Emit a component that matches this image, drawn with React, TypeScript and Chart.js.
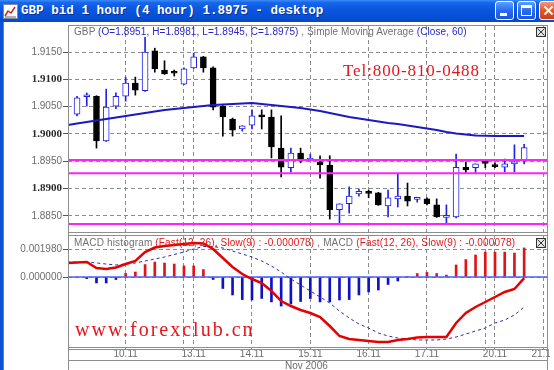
import React, { useEffect, useRef } from 'react';
import { Chart, registerables } from 'chart.js';

Chart.register(...registerables);

// ---------- data (4-hour candles, index 0 .. 46) ----------
const OPEN = [1.9036, 1.9068, 1.9069, 1.8987, 1.9051, 1.9069, 1.9093, 1.9079, 1.9152, 1.9117, 1.9112, 1.9091, 1.9121, 1.9141, 1.9121, 1.9051, 1.9027, 1.9009, 1.9016, 1.9035, 1.9031, 1.8974, 1.8938, 1.8965, 1.8952, 1.8949, 1.8943, 1.8861, 1.8872, 1.8890, 1.8892, 1.8892, 1.8868, 1.8881, 1.8886, 1.8880, 1.8881, 1.8870, 1.8847, 1.8848, 1.8939, 1.8938, 1.8947, 1.8942, 1.8939, 1.8945, 1.8951];
const HIGH = [1.9069, 1.9075, 1.9070, 1.9082, 1.9075, 1.9104, 1.9104, 1.9177, 1.9157, 1.9134, 1.9117, 1.9121, 1.9148, 1.9142, 1.9123, 1.9052, 1.9029, 1.9015, 1.9044, 1.9044, 1.9044, 1.9033, 1.8974, 1.8974, 1.8963, 1.8960, 1.8960, 1.8872, 1.8903, 1.8899, 1.8897, 1.8893, 1.8897, 1.8928, 1.8910, 1.8884, 1.8883, 1.8881, 1.8870, 1.8963, 1.8949, 1.8945, 1.8949, 1.8947, 1.8954, 1.8980, 1.8981];
const LOW = [1.9033, 1.9051, 1.8974, 1.8986, 1.9046, 1.9060, 1.9071, 1.9078, 1.9113, 1.9109, 1.9106, 1.9090, 1.9120, 1.9113, 1.9044, 1.8996, 1.8996, 1.9005, 1.9009, 1.9009, 1.8956, 1.8921, 1.8930, 1.8947, 1.8951, 1.8919, 1.8844, 1.8837, 1.8855, 1.8886, 1.8883, 1.8869, 1.8848, 1.8866, 1.8868, 1.8875, 1.8870, 1.8847, 1.8837, 1.8846, 1.8927, 1.8927, 1.8938, 1.8938, 1.8930, 1.8930, 1.8945];
const CLOSE = [1.9066, 1.9069, 1.8987, 1.9049, 1.9069, 1.9093, 1.9080, 1.9150, 1.9119, 1.9110, 1.9111, 1.9119, 1.9141, 1.9121, 1.9049, 1.9031, 1.9007, 1.9015, 1.9033, 1.9031, 1.8976, 1.8939, 1.8965, 1.8952, 1.8954, 1.8943, 1.8861, 1.8872, 1.8886, 1.8895, 1.8891, 1.8870, 1.8883, 1.8886, 1.8877, 1.8881, 1.8872, 1.8848, 1.8848, 1.8939, 1.8934, 1.8945, 1.8946, 1.8940, 1.8945, 1.8949, 1.8975];

// Simple moving average (Close, 60), MACD and signal start one bar before the first candle
const LINE_START = -1;
const SMA = [1.90163, 1.90190, 1.90218, 1.90245, 1.90273, 1.90300, 1.90328, 1.90355, 1.90383, 1.90410, 1.90438, 1.90456, 1.90474, 1.90493, 1.90511, 1.90529, 1.90538, 1.90548, 1.90557, 1.90566, 1.90548, 1.90529, 1.90511, 1.90493, 1.90474, 1.90447, 1.90419, 1.90383, 1.90346, 1.90310, 1.90282, 1.90255, 1.90227, 1.90200, 1.90181, 1.90154, 1.90126, 1.90099, 1.90071, 1.90035, 1.90007, 1.89989, 1.89971, 1.89965, 1.89962, 1.89960, 1.89960, 1.89962];
const MACD = [0.001012, 0.001048, 0.001084, 0.000650, 0.000578, 0.000686, 0.000939, 0.001156, 0.001807, 0.002132, 0.002240, 0.002312, 0.002385, 0.002457, 0.002421, 0.002023, 0.001373, 0.000723, 0.000217, -0.000145, -0.000434, -0.001012, -0.001734, -0.002096, -0.002385, -0.002601, -0.002890, -0.003541, -0.004263, -0.004480, -0.004552, -0.004625, -0.004697, -0.004697, -0.004552, -0.004480, -0.004372, -0.004336, -0.004336, -0.004336, -0.003324, -0.002601, -0.002168, -0.001807, -0.001445, -0.001084, -0.000867, -0.000078];
const SIGNAL = [0.001084, 0.001084, 0.001084, 0.001012, 0.000939, 0.000867, 0.000939, 0.001012, 0.001156, 0.001301, 0.001445, 0.001626, 0.001807, 0.002023, 0.002204, 0.002204, 0.002096, 0.001879, 0.001662, 0.001445, 0.001156, 0.000795, 0.000361, -0.000145, -0.000578, -0.001012, -0.001445, -0.001879, -0.002457, -0.002963, -0.003396, -0.003685, -0.004047, -0.004263, -0.004408, -0.004480, -0.004552, -0.004552, -0.004552, -0.004480, -0.004336, -0.004119, -0.003902, -0.003685, -0.003324, -0.003107, -0.002746, -0.002168];
const HIST = [0, -0.00012, -0.00043, -0.00043, -0.00018, 0.00025, 0.00036, 0.00090, 0.00108, 0.00101, 0.00094, 0.00080, 0.00080, 0.00054, -0.00018, -0.00083, -0.00130, -0.00163, -0.00166, -0.00155, -0.00180, -0.00210, -0.00195, -0.00177, -0.00155, -0.00180, -0.00180, -0.00166, -0.00163, -0.00130, -0.00108, -0.00094, -0.00054, -0.00029, 0.00001, 0.00025, 0.00033, 0.00025, 0.00014, 0.00087, 0.00126, 0.00159, 0.00180, 0.00180, 0.00180, 0.00173, 0.00210];

// horizontal support / resistance levels (magenta)
const LEVELS = [1.8952, 1.8928, 1.8835];

// axis ticks
const PRICE_TICKS = [1.8850, 1.8900, 1.8950, 1.9000, 1.9050, 1.9100, 1.9150];
const MACD_TICKS = [0, 0.00198];
const DAY_TICKS = [5, 12, 18, 24, 30, 36, 43, 48];
const DAY_LABELS = ['10.11', '13.11', '14.11', '15.11', '16.11', '17.11', '20.11', '21.11'];
const WEEKEND_TICKS = [11, 42];
const MONTH_LABEL = 'Nov 2006';

// ---------- layout constants ----------
const X_MIN = -0.93;
const X_MAX = 48.35;
const MAIN_Y_MIN = 1.882033;
const MAIN_Y_MAX = 1.919762;
const MACD_Y_MIN = -0.005058;
const MACD_Y_MAX = 0.003035;

const GRID = '#8c8c8c';
const FRAME = '#8e8e8e';
const BULL = '#2222e6';
const BEAR = '#000000';
const SANS = '"Liberation Sans", Arial, sans-serif';
const SERIF = '"Liberation Serif", "Times New Roman", serif';

const allGrid = [...DAY_TICKS, ...WEEKEND_TICKS].sort((a, b) => a - b);

function noPad(s: any) {
  s.paddingLeft = 0;
  s.paddingRight = 0;
  s.paddingTop = 0;
  s.paddingBottom = 0;
}

function mainConfig(): any {
  const isBull = (i: number) => CLOSE[i] >= OPEN[i];
  return {
    type: 'bar',
    data: {
      datasets: [
        ...LEVELS.map((lv) => ({
          type: 'line',
          data: [{ x: X_MIN, y: lv }, { x: X_MAX, y: lv }],
          borderColor: '#ff22ff',
          borderWidth: 2,
          pointRadius: 0,
          order: 0,
        })),
        {
          type: 'line',
          data: SMA.map((v, k) => ({ x: k + LINE_START, y: v })),
          borderColor: '#1a1ac4',
          borderWidth: 2,
          pointRadius: 0,
          tension: 0,
          order: 1,
        },
        {
          type: 'bar',
          data: OPEN.map((o, i) => ({ x: i, y: [o, CLOSE[i]] })),
          backgroundColor: OPEN.map((_, i) => (isBull(i) ? '#ffffff' : BEAR)),
          borderColor: OPEN.map((_, i) => (isBull(i) ? BULL : BEAR)),
          borderWidth: 1,
          borderSkipped: false,
          barThickness: 6,
          minBarLength: 2,
          grouped: false,
          order: 2,
        },
        {
          type: 'bar',
          data: OPEN.map((_, i) => ({ x: i, y: [LOW[i], HIGH[i]] })),
          backgroundColor: OPEN.map((_, i) => (isBull(i) ? BULL : BEAR)),
          borderWidth: 0,
          barThickness: 1,
          grouped: false,
          order: 3,
        },
      ],
    },
    options: {
      animation: false,
      responsive: false,
      maintainAspectRatio: false,
      events: [],
      layout: { padding: { top: 4, right: 3, bottom: 2, left: 0 } },
      plugins: { legend: { display: false }, tooltip: { enabled: false } },
      scales: {
        x: {
          type: 'linear',
          min: X_MIN,
          max: X_MAX,
          offset: false,
          afterBuildTicks: (s: any) => {
            s.ticks = allGrid.map((v) => ({ value: v }));
          },
          afterFit: (s: any) => {
            s.height = 0;
            noPad(s);
          },
          ticks: { display: false },
          grid: { color: GRID, drawTicks: false, lineWidth: 1, offset: false },
          border: { display: false, dash: [4, 3] },
        },
        y: {
          type: 'linear',
          min: MAIN_Y_MIN,
          max: MAIN_Y_MAX,
          afterBuildTicks: (s: any) => {
            s.ticks = PRICE_TICKS.map((v) => ({ value: v }));
          },
          afterFit: (s: any) => {
            s.width = 68;
            noPad(s);
          },
          ticks: {
            padding: 1,
            callback: (v: any) => Number(v).toFixed(4),
            color: (ctx: any) => (ctx.index % 2 === 1 ? '#2a2a2a' : '#6c6c6c'),
            font: (ctx: any) =>
              ctx.index % 2 === 1
                ? { family: SERIF, size: 11, weight: 'bold' }
                : { family: SANS, size: 10 },
          },
          grid: { color: GRID, tickLength: 5, tickColor: '#555555', tickBorderDash: [] },
          border: { display: false, dash: [4, 3] },
        },
      },
    },
  };
}

function macdConfig(): any {
  return {
    type: 'bar',
    data: {
      datasets: [
        {
          type: 'line',
          data: MACD.map((v, k) => ({ x: k + LINE_START, y: v })),
          borderColor: '#e60000',
          borderWidth: 2.5,
          pointRadius: 0,
          tension: 0,
          order: 0,
        },
        {
          type: 'line',
          data: SIGNAL.map((v, k) => ({ x: k + LINE_START, y: v })),
          borderColor: '#2a2ab4',
          borderWidth: 1,
          borderDash: [3, 3],
          pointRadius: 0,
          tension: 0,
          order: 1,
        },
        {
          type: 'line',
          data: [{ x: X_MIN, y: 0 }, { x: X_MAX, y: 0 }],
          borderColor: '#4a60ff',
          borderWidth: 1.5,
          pointRadius: 0,
          order: 2,
        },
        {
          type: 'bar',
          data: HIST.map((v, i) => ({ x: i, y: v })),
          backgroundColor: HIST.map((v) => (v >= 0 ? '#e01414' : '#1010c4')),
          borderWidth: 0,
          barThickness: 2,
          grouped: false,
          order: 3,
        },
      ],
    },
    options: {
      animation: false,
      responsive: false,
      maintainAspectRatio: false,
      events: [],
      layout: { padding: { top: 1, right: 3, bottom: 0, left: 0 } },
      plugins: { legend: { display: false }, tooltip: { enabled: false } },
      scales: {
        x: {
          type: 'linear',
          min: X_MIN,
          max: X_MAX,
          offset: false,
          afterBuildTicks: (s: any) => {
            s.ticks = allGrid.map((v) => ({ value: v }));
          },
          afterFit: (s: any) => {
            s.height = 23;
            noPad(s);
          },
          ticks: {
            autoSkip: false,
            maxRotation: 0,
            padding: -3,
            color: '#6c6c6c',
            font: { family: SANS, size: 10 },
            callback: (v: any) => {
              const k = DAY_TICKS.indexOf(Number(v));
              return k >= 0 ? DAY_LABELS[k] : '';
            },
          },
          grid: { color: GRID, tickLength: 4, tickColor: GRID, tickBorderDash: [2, 2], offset: false },
          border: { display: false, dash: [4, 3] },
        },
        y: {
          type: 'linear',
          min: MACD_Y_MIN,
          max: MACD_Y_MAX,
          afterBuildTicks: (s: any) => {
            s.ticks = MACD_TICKS.map((v) => ({ value: v }));
          },
          afterFit: (s: any) => {
            s.width = 68;
            noPad(s);
          },
          ticks: {
            padding: 1,
            color: '#6c6c6c',
            font: { family: SANS, size: 10 },
            callback: (v: any) => Number(v).toFixed(6),
          },
          grid: { color: GRID, tickLength: 5, tickColor: '#555555', tickBorderDash: [] },
          border: { display: false, dash: [4, 3] },
        },
      },
    },
  };
}

const abs = (o: React.CSSProperties): React.CSSProperties => ({ position: 'absolute', ...o });

function HLine({ x1, x2, y, c = FRAME }: { x1: number; x2: number; y: number; c?: string }) {
  return <div style={abs({ left: x1, top: y, width: x2 - x1, height: 1, background: c })} />;
}
function VLine({ x, y1, y2, c = FRAME }: { x: number; y1: number; y2: number; c?: string }) {
  return <div style={abs({ left: x, top: y1, width: 1, height: y2 - y1, background: c })} />;
}
function CloseBox({ x, y }: { x: number; y: number }) {
  return (
    <svg width={10} height={10} style={abs({ left: x, top: y })}>
      <rect x={0.5} y={0.5} width={9} height={9} fill="#e4e4e4" stroke="#333" />
      <line x1={1.5} y1={1.5} x2={8.5} y2={8.5} stroke="#333" />
      <line x1={8.5} y1={1.5} x2={1.5} y2={8.5} stroke="#333" />
    </svg>
  );
}

export default function App() {
  const mainRef = useRef<HTMLCanvasElement>(null);
  const macdRef = useRef<HTMLCanvasElement>(null);

  useEffect(() => {
    const c1 = new Chart(mainRef.current as HTMLCanvasElement, mainConfig());
    const c2 = new Chart(macdRef.current as HTMLCanvasElement, macdConfig());
    return () => {
      c1.destroy();
      c2.destroy();
    };
  }, []);

  const L = OPEN.length - 1;
  const lastClose = CLOSE[L].toFixed(4);
  const ohlc = `(O=${OPEN[L].toFixed(4)}, H=${HIGH[L].toFixed(4)}, L=${LOW[L].toFixed(4)}, C=${CLOSE[L].toFixed(4)})`;
  const macdVal = MACD[MACD.length - 1].toFixed(6);
  const macdParams = `(Fast(12, 26), Slow(9) : ${macdVal})`;

  const gray = '#707070';
  const blue = '#2626cc';
  const red = '#e01818';
  const btn: React.CSSProperties = {
    position: 'absolute',
    top: 1,
    width: 19,
    height: 19,
    borderRadius: 3,
    border: '1px solid #ffffff',
    boxSizing: 'border-box',
    background: 'linear-gradient(#5da0ff, #2a6cf0 50%, #1a55dc)',
  };

  return (
    <div
      style={abs({
        left: 0,
        top: 0,
        width: 554,
        height: 370,
        overflow: 'hidden',
        background: '#ffffff',
        fontFamily: SANS,
      })}
    >
      {/* title bar */}
      <div
        style={abs({
          left: 0,
          top: 0,
          width: 554,
          height: 22,
          background: 'linear-gradient(#3b8cf8 0%, #1766ec 12%, #0a56de 45%, #0650d8 75%, #0a48c4 100%)',
        })}
      />
      <svg width={15} height={15} style={abs({ left: 3, top: 4 })}>
        <rect x={0.5} y={0.5} width={14} height={14} fill="#ffffff" stroke="#7a8aa8" />
        <polyline points="2,12 5,7 8,9 12,3" fill="none" stroke="#e02020" strokeWidth={1.5} />
        <line x1={2} y1={13} x2={13} y2={13} stroke="#606060" />
      </svg>
      <div
        style={abs({
          left: 21,
          top: 4,
          lineHeight: '14px',
          fontFamily: '"Liberation Mono", "DejaVu Sans Mono", monospace',
          fontWeight: 'bold',
          fontSize: 12.6,
          color: '#ffffff',
          whiteSpace: 'pre',
          textShadow: '1px 1px 0 #0a2f96',
        })}
      >
        {`GBP bid 1 hour (4 hour) ${lastClose} - desktop`}
      </div>
      <div style={{ ...btn, left: 495 }}>
        <div style={abs({ left: 4, top: 11, width: 7, height: 3, background: '#fff' })} />
      </div>
      <div style={{ ...btn, left: 517 }}>
        <div
          style={abs({
            left: 3,
            top: 3,
            width: 11,
            height: 11,
            boxSizing: 'border-box',
            border: '1px solid #fff',
            borderTop: '3px solid #fff',
          })}
        />
      </div>
      <div style={{ ...btn, left: 539, background: 'linear-gradient(#f49a72, #e2572c 50%, #c8401a)' }}>
        <svg width={17} height={17} style={abs({ left: 0, top: 0 })}>
          <line x1={4.5} y1={4.5} x2={12.5} y2={12.5} stroke="#fff" strokeWidth={2} />
          <line x1={12.5} y1={4.5} x2={4.5} y2={12.5} stroke="#fff" strokeWidth={2} />
        </svg>
      </div>

      {/* left window border */}
      <div style={abs({ left: 0, top: 22, width: 4, height: 348, background: '#0c52d6' })} />
      <div style={abs({ left: 3, top: 22, width: 1, height: 348, background: '#4d86e6' })} />

      {/* charts */}
      <canvas ref={mainRef} width={550} height={212} style={abs({ left: 0, top: 22, width: 550, height: 212 })} />
      <canvas ref={macdRef} width={550} height={136} style={abs({ left: 0, top: 234, width: 550, height: 136 })} />

      {/* panel frames */}
      <VLine x={68} y1={26} y2={370} />
      <VLine x={547} y1={26} y2={370} />
      <HLine x1={68} x2={548} y={25} />
      <HLine x1={68} x2={548} y={232} />
      <HLine x1={68} x2={548} y={235} />
      <HLine x1={68} x2={548} y={347} />
      <HLine x1={68} x2={548} y={349} />
      <HLine x1={68} x2={548} y={360} />
      <CloseBox x={536} y={27} />
      <CloseBox x={536} y={238} />

      {/* legends */}
      <div
        style={abs({
          left: 74,
          top: 26,
          fontSize: 10,
          lineHeight: '12px',
          letterSpacing: '0.09px',
          whiteSpace: 'pre',
          color: gray,
        })}
      >
        <span>GBP </span>
        <span style={{ color: blue }}>{ohlc}</span>
        <span> , Simple Moving Average </span>
        <span style={{ color: blue }}>(Close, 60)</span>
      </div>
      <div
        style={abs({
          left: 74,
          top: 237,
          fontSize: 10,
          lineHeight: '12px',
          letterSpacing: '0.16px',
          whiteSpace: 'pre',
          color: gray,
        })}
      >
        <span>MACD histogram </span>
        <span style={{ color: red }}>{macdParams}</span>
        <span> , MACD </span>
        <span style={{ color: red }}>{macdParams}</span>
      </div>

      {/* watermark texts */}
      <div
        style={abs({
          left: 343,
          top: 61,
          fontFamily: SERIF,
          fontSize: 17,
          lineHeight: '20px',
          letterSpacing: '0.9px',
          color: '#e8141c',
          whiteSpace: 'pre',
        })}
      >
        Tel:800-810-0488
      </div>
      <div
        style={abs({
          left: 75,
          top: 317,
          fontFamily: SERIF,
          fontSize: 20,
          lineHeight: '24px',
          letterSpacing: '2px',
          color: '#e8141c',
          whiteSpace: 'pre',
        })}
      >
        www.forexclub.cn
      </div>

      <div style={abs({ left: 285, top: 360, fontSize: 10, lineHeight: '12px', color: '#6c6c6c', whiteSpace: 'pre' })}>
        {MONTH_LABEL}
      </div>
    </div>
  );
}
